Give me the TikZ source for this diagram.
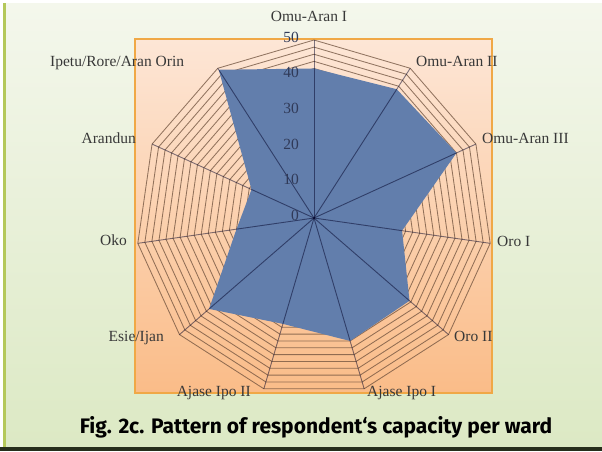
\documentclass[tikz,border=0pt]{standalone}
\usepackage{fontspec}
\setmainfont{Liberation Serif}
\newfontfamily\capfont{Fira Sans}
\definecolor{bgtop}{RGB}{244,247,236}
\definecolor{bgbot}{RGB}{220,233,196}
\definecolor{leftbar}{RGB}{180,200,90}
\definecolor{darkbar}{RGB}{38,46,28}
\definecolor{boxtop}{RGB}{253,230,214}
\definecolor{boxbot}{RGB}{250,188,136}
\definecolor{boxborder}{RGB}{240,168,70}
\definecolor{serieblue}{RGB}{98,126,172}
\definecolor{numcol}{RGB}{48,58,88}
\definecolor{ringcol}{RGB}{110,80,60}
\begin{document}
\begin{tikzpicture}[x=1pt,y=-1pt,
  gridline/.style={draw=ringcol, draw opacity=0.75, line width=0.85pt},
  spokeline/.style={draw=black!85!blue, draw opacity=0.5, line width=0.9pt},
  catlabel/.style={font=\fontsize{15.5}{18}\selectfont, text=black!78, inner sep=0pt},
  numlabel/.style={font=\fontsize{15.5}{18}\selectfont, text=numcol, inner sep=0pt, anchor=mid east},
  caption/.style={font=\capfont\bfseries\fontsize{21}{24}\selectfont, text=black, inner sep=0pt}]
\useasboundingbox (0,0) rectangle (602,451);
% background
\fill[white] (0,0) rectangle (602,451);
\shade[top color=bgtop, bottom color=bgbot] (3,3) rectangle (602,447);
\fill[leftbar] (3,3) rectangle (6,447);
\fill[darkbar] (0,447) rectangle (602,451);
% plot area
\shade[top color=boxtop, bottom color=boxbot] (135,39) rectangle (492,393);
\draw[boxborder, line width=1.6pt] (135,39) rectangle (492,393);
\coordinate (c) at (314,218);
% rings (every 2 units, 25 rings)
\foreach \k in {1,...,25}{
  \draw[gridline] ({314},{218-\k*7.12})
    \foreach \i in {1,...,10}{ -- ({314+\k*7.12*sin(\i*360/11)},{218-\k*7.12*cos(\i*360/11)}) } -- cycle;
}
% data series
\def\vals{{42,43,44,25,35.5,36,31,39,22,19.3,49.5}}
\fill[serieblue] ({314},{218-42*3.56})
  \foreach \i in {1,...,10}{ -- ({314+\vals[\i]*3.56*sin(\i*360/11)},{218-\vals[\i]*3.56*cos(\i*360/11)}) } -- cycle;
% spokes
\foreach \i in {0,...,10}{
  \coordinate (s\i) at ({314+178*sin(\i*360/11)},{218-178*cos(\i*360/11)});
  \draw[spokeline] (c) -- (s\i);
}
% axis numbers
\node[numlabel] (n0) at (299,218) {0};
\node[numlabel] (n10) at (299,182.4) {10};
\node[numlabel] (n20) at (299,146.8) {20};
\node[numlabel] (n30) at (299,111.2) {30};
\node[numlabel] (n40) at (299,75.6) {40};
\node[numlabel] (n50) at (299,40) {50};
% category labels
\node[catlabel, anchor=mid] (l1) at (309,19) {Omu-Aran I};
\node[catlabel, anchor=mid west] (l2) at (416,64) {Omu-Aran II};
\node[catlabel, anchor=mid west] (l3) at (482,141) {Omu-Aran III};
\node[catlabel, anchor=mid west] (l4) at (497,244) {Oro I};
\node[catlabel, anchor=mid west] (l5) at (454,339) {Oro II};
\node[catlabel, anchor=mid west] (l6) at (367,394) {Ajase Ipo I};
\node[catlabel, anchor=mid east] (l7) at (251,394) {Ajase Ipo II};
\node[catlabel, anchor=mid east] (l8) at (164,339) {Esie/Ijan};
\node[catlabel, anchor=mid east] (l9) at (127,243) {Oko};
\node[catlabel, anchor=mid east] (l10) at (136,141) {Arandun};
\node[catlabel, anchor=mid west] (l11) at (50,64) {Ipetu/Rore/Aran Orin};
% caption
\node[caption, anchor=base] (cap) at (316,433) {Fig. 2c. Pattern of respondent‘s capacity per ward};
\end{tikzpicture}
\end{document}
